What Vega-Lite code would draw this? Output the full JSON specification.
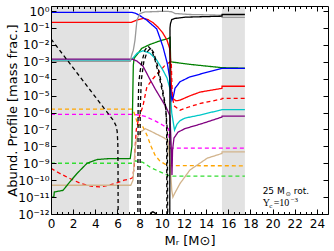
{
"$schema": "https://vega.github.io/schema/vega-lite/v6.json",
"width": 277, "height": 208,
"autosize": {"type": "none"},
"padding": {"left": 51, "top": 6, "right": 6, "bottom": 37},
"config": {"view": {"stroke": null}, "font": "DejaVu Sans"},
"datasets": {
"zones": [{"x0": 0, "x1": 7.05}, {"x0": 15.43, "x1": 17.5}],
"one": [{}],
"lines": [
{"s":"gd","x":0,"y":1e-9},{"s":"gd","x":7.4,"y":1e-9},{"s":"gd","x":7.6,"y":1.41e-9},{"s":"gd","x":8.3,"y":1.12e-9},{"s":"gd","x":9.0,"y":5.6e-10},{"s":"gd","x":9.8,"y":3.2e-10},{"s":"gd","x":10.5,"y":2e-10},{"s":"gd","x":11.0,"y":1.74e-10},{"s":"gd","x":17.5,"y":1.74e-10},
{"s":"md","x":0,"y":7.9e-7},{"s":"md","x":7.3,"y":7.9e-7},{"s":"md","x":8.0,"y":7.1e-7},{"s":"md","x":8.5,"y":6e-7},{"s":"md","x":9.4,"y":3.2e-7},{"s":"md","x":10.1,"y":1.78e-7},{"s":"md","x":10.6,"y":1.12e-7},{"s":"md","x":10.75,"y":7.9e-9},{"s":"md","x":17.5,"y":7.9e-9},
{"s":"od","x":0,"y":1.58e-6},{"s":"od","x":7.3,"y":1.58e-6},{"s":"od","x":7.5,"y":1e-6},{"s":"od","x":7.72,"y":3.5e-7},{"s":"od","x":7.85,"y":1.58e-7},{"s":"od","x":8.03,"y":2e-7},{"s":"od","x":8.3,"y":1.41e-7},{"s":"od","x":8.66,"y":4.6e-8},{"s":"od","x":9.03,"y":1.02e-8},{"s":"od","x":9.39,"y":3e-9},{"s":"od","x":9.84,"y":1.32e-9},{"s":"od","x":10.29,"y":8.9e-10},{"s":"od","x":10.74,"y":7.2e-10},{"s":"od","x":17.5,"y":7.1e-10},
{"s":"rd","x":0,"y":5e-10},{"s":"rd","x":0.8,"y":2.5e-10},{"s":"rd","x":1.7,"y":1.26e-10},{"s":"rd","x":2.7,"y":6.3e-11},{"s":"rd","x":3.6,"y":4.5e-11},{"s":"rd","x":4.4,"y":4e-11},{"s":"rd","x":5.2,"y":5e-11},{"s":"rd","x":6.0,"y":7.1e-11},{"s":"rd","x":6.6,"y":1e-10},{"s":"rd","x":7.1,"y":1.15e-10},{"s":"rd","x":7.35,"y":1.4e-10},{"s":"rd","x":7.5,"y":5e-10},{"s":"rd","x":7.6,"y":1e-8},{"s":"rd","x":7.7,"y":1e-7},{"s":"rd","x":7.9,"y":4e-7},{"s":"rd","x":8.3,"y":2.5e-6},{"s":"rd","x":8.65,"y":3.2e-5},{"s":"rd","x":9.2,"y":1e-4},{"s":"rd","x":9.8,"y":2.8e-4},{"s":"rd","x":10.3,"y":6.3e-4},{"s":"rd","x":10.75,"y":1e-3},{"s":"rd","x":10.85,"y":1e-3},{"s":"rd","x":10.95,"y":1e-5},{"s":"rd","x":11.1,"y":2.5e-6},{"s":"rd","x":11.64,"y":1.38e-6},{"s":"rd","x":12.5,"y":2.2e-6},{"s":"rd","x":13.5,"y":3.5e-6},{"s":"rd","x":15.43,"y":6.3e-6},{"s":"rd","x":15.44,"y":6.8e-6},{"s":"rd","x":17.5,"y":6.8e-6},
{"s":"tan","x":0,"y":5e-11},{"s":"tan","x":7.2,"y":5e-11},{"s":"tan","x":7.4,"y":1e-10},{"s":"tan","x":7.55,"y":3.2e-9},{"s":"tan","x":7.7,"y":2.5e-8},{"s":"tan","x":8.0,"y":6.3e-8},{"s":"tan","x":8.5,"y":1.12e-7},{"s":"tan","x":9.0,"y":7.9e-8},{"s":"tan","x":9.6,"y":5e-8},{"s":"tan","x":10.2,"y":3.2e-8},{"s":"tan","x":10.55,"y":2.2e-8},{"s":"tan","x":10.75,"y":1e-9},{"s":"tan","x":10.9,"y":2.5e-11},{"s":"tan","x":11.0,"y":1e-11},{"s":"tan","x":11.15,"y":1.6e-11},{"s":"tan","x":11.64,"y":6.3e-11},{"s":"tan","x":12.54,"y":4e-10},{"s":"tan","x":14.1,"y":2e-9},{"s":"tan","x":15.43,"y":3.8e-9},{"s":"tan","x":15.44,"y":4.7e-9},{"s":"tan","x":17.5,"y":4.7e-9},
{"s":"green","x":0,"y":1e-11},{"s":"green","x":0.25,"y":1e-11},{"s":"green","x":0.3,"y":2e-11},{"s":"green","x":1.08,"y":2.5e-11},{"s":"green","x":1.4,"y":4.5e-11},{"s":"green","x":1.7,"y":7.9e-11},{"s":"green","x":2.35,"y":2.5e-10},{"s":"green","x":3.25,"y":1e-9},{"s":"green","x":4.15,"y":1.66e-9},{"s":"green","x":5.3,"y":1.9e-9},{"s":"green","x":7.15,"y":1.9e-9},{"s":"green","x":7.3,"y":1e-8},{"s":"green","x":7.38,"y":1e-5},{"s":"green","x":7.43,"y":6.3e-4},{"s":"green","x":7.5,"y":1.6e-3},{"s":"green","x":7.73,"y":2.5e-3},{"s":"green","x":8.19,"y":6.3e-3},{"s":"green","x":8.94,"y":0.0107},{"s":"green","x":9.84,"y":0.0174},{"s":"green","x":10.59,"y":0.024},{"s":"green","x":10.75,"y":0.028},{"s":"green","x":10.8,"y":1e-3},{"s":"green","x":12.5,"y":7.1e-4},{"s":"green","x":15.43,"y":4.5e-4},{"s":"green","x":17.5,"y":4.2e-4},
{"s":"cyan","x":0,"y":1.26e-3},{"s":"cyan","x":7.22,"y":1.26e-3},{"s":"cyan","x":7.5,"y":2e-3},{"s":"cyan","x":7.76,"y":3.2e-3},{"s":"cyan","x":8.3,"y":4.5e-3},{"s":"cyan","x":8.94,"y":3.2e-3},{"s":"cyan","x":9.54,"y":1.26e-3},{"s":"cyan","x":10.1,"y":3.2e-4},{"s":"cyan","x":10.47,"y":1.12e-4},{"s":"cyan","x":10.74,"y":2.5e-5},{"s":"cyan","x":10.9,"y":9.1e-7},{"s":"cyan","x":11.15,"y":9.1e-8},{"s":"cyan","x":11.37,"y":2.04e-7},{"s":"cyan","x":11.64,"y":3.3e-7},{"s":"cyan","x":12.09,"y":4.7e-7},{"s":"cyan","x":13.45,"y":7.1e-7},{"s":"cyan","x":15.43,"y":1.48e-6},{"s":"cyan","x":17.5,"y":1.48e-6},
{"s":"purple","x":0,"y":1.45e-3},{"s":"purple","x":7.31,"y":1.45e-3},{"s":"purple","x":7.76,"y":1.1e-3},{"s":"purple","x":8.3,"y":5.6e-4},{"s":"purple","x":8.9,"y":1e-4},{"s":"purple","x":9.4,"y":2.5e-5},{"s":"purple","x":9.9,"y":7.1e-6},{"s":"purple","x":10.4,"y":2e-6},{"s":"purple","x":10.74,"y":6.3e-7},{"s":"purple","x":10.85,"y":1e-8},{"s":"purple","x":10.92,"y":2e-10},{"s":"purple","x":10.97,"y":6e-9},{"s":"purple","x":11.1,"y":3.1e-8},{"s":"purple","x":11.46,"y":6.9e-8},{"s":"purple","x":12.09,"y":1.12e-7},{"s":"purple","x":13.45,"y":2.04e-7},{"s":"purple","x":15.43,"y":5.4e-7},{"s":"purple","x":15.44,"y":6.2e-7},{"s":"purple","x":17.5,"y":6.2e-7},
{"s":"red","x":0,"y":0.214},{"s":"red","x":7.22,"y":0.214},{"s":"red","x":7.76,"y":0.295},{"s":"red","x":8.3,"y":0.372},{"s":"red","x":8.75,"y":0.316},{"s":"red","x":9.2,"y":0.209},{"s":"red","x":9.66,"y":0.112},{"s":"red","x":10.1,"y":0.05},{"s":"red","x":10.47,"y":0.019},{"s":"red","x":10.7,"y":6.5e-3},{"s":"red","x":10.79,"y":1.26e-3},{"s":"red","x":10.88,"y":2.14e-5},{"s":"red","x":10.97,"y":7.1e-6},{"s":"red","x":11.28,"y":4.9e-6},{"s":"red","x":11.64,"y":5.4e-6},{"s":"red","x":12.54,"y":9.8e-6},{"s":"red","x":13.45,"y":1.62e-5},{"s":"red","x":15.43,"y":2.7e-5},{"s":"red","x":15.44,"y":3.6e-5},{"s":"red","x":17.5,"y":3.6e-5},
{"s":"blue","x":0,"y":0.83},{"s":"blue","x":7.3,"y":0.83},{"s":"blue","x":7.6,"y":0.76},{"s":"blue","x":8.03,"y":0.537},{"s":"blue","x":8.64,"y":0.295},{"s":"blue","x":8.94,"y":0.195},{"s":"blue","x":9.54,"y":0.089},{"s":"blue","x":9.84,"y":0.0251},{"s":"blue","x":10.1,"y":7.9e-3},{"s":"blue","x":10.3,"y":2.5e-3},{"s":"blue","x":10.5,"y":7.9e-4},{"s":"blue","x":10.7,"y":1.26e-4},{"s":"blue","x":10.85,"y":1e-5},{"s":"blue","x":10.92,"y":5.4e-6},{"s":"blue","x":11.04,"y":8.5e-6},{"s":"blue","x":11.19,"y":2.7e-5},{"s":"blue","x":11.64,"y":6.6e-5},{"s":"blue","x":12.54,"y":1.29e-4},{"s":"blue","x":13.45,"y":1.86e-4},{"s":"blue","x":15.43,"y":4.1e-4},{"s":"blue","x":17.5,"y":4.1e-4},
{"s":"grey","x":0,"y":1.07e-3},{"s":"grey","x":7.15,"y":1.07e-3},{"s":"grey","x":7.28,"y":2.5e-3},{"s":"grey","x":7.43,"y":4.9e-3},{"s":"grey","x":7.58,"y":0.019},{"s":"grey","x":7.67,"y":0.076},{"s":"grey","x":7.76,"y":0.295},{"s":"grey","x":8.03,"y":0.72},{"s":"grey","x":8.48,"y":0.89},{"s":"grey","x":9.84,"y":0.955},{"s":"grey","x":10.6,"y":0.955},{"s":"grey","x":10.9,"y":0.91},{"s":"grey","x":11.2,"y":0.72},{"s":"grey","x":12.5,"y":0.63},{"s":"grey","x":15.43,"y":0.575},{"s":"grey","x":15.44,"y":0.427},{"s":"grey","x":17.5,"y":0.427},
{"s":"black","x":8.85,"y":5e-13},{"s":"black","x":9.0,"y":1.15e-12},{"s":"black","x":9.2,"y":1.35e-12},{"s":"black","x":9.4,"y":1.15e-12},{"s":"black","x":9.55,"y":5e-13},{"s":"black","x":10.72,"y":5e-13},{"s":"black","x":10.74,"y":0.1},{"s":"black","x":10.78,"y":0.178},{"s":"black","x":10.9,"y":0.316},{"s":"black","x":11.2,"y":0.37},{"s":"black","x":12.1,"y":0.437},{"s":"black","x":15.43,"y":0.5},{"s":"black","x":15.44,"y":0.63},{"s":"black","x":17.5,"y":0.63},
{"s":"bd1","x":0,"y":0.0224},{"s":"bd1","x":2,"y":4.4e-4},{"s":"bd1","x":4,"y":8.5e-6},{"s":"bd1","x":5.62,"y":3.5e-7},{"s":"bd1","x":5.85,"y":1.78e-7},{"s":"bd1","x":5.97,"y":7.9e-8},{"s":"bd1","x":6.03,"y":1.58e-8},{"s":"bd1","x":6.05,"y":3.2e-10},{"s":"bd1","x":6.06,"y":5e-13},
{"s":"bd2","x":7.84,"y":5e-13},{"s":"bd2","x":7.85,"y":1.6e-9},{"s":"bd2","x":7.86,"y":1.4e-6},{"s":"bd2","x":7.92,"y":5.5e-5},{"s":"bd2","x":8.06,"y":3.2e-4},{"s":"bd2","x":8.2,"y":1e-3},{"s":"bd2","x":8.48,"y":4.9e-3},{"s":"bd2","x":8.75,"y":8.5e-3},{"s":"bd2","x":9.09,"y":4.9e-3},{"s":"bd2","x":9.39,"y":1.26e-3},{"s":"bd2","x":9.84,"y":8.3e-5},{"s":"bd2","x":10.14,"y":8.5e-6},{"s":"bd2","x":10.38,"y":1.38e-6},{"s":"bd2","x":10.44,"y":9.1e-8},{"s":"bd2","x":10.46,"y":5e-13},
{"s":"bd3","x":8.04,"y":5e-13},{"s":"bd3","x":8.05,"y":1.4e-6},{"s":"bd3","x":8.15,"y":8.3e-5},{"s":"bd3","x":8.37,"y":9.5e-4},{"s":"bd3","x":8.66,"y":3.7e-3},{"s":"bd3","x":8.98,"y":6.5e-3},{"s":"bd3","x":9.25,"y":3.7e-3},{"s":"bd3","x":9.61,"y":6.3e-4},{"s":"bd3","x":10.02,"y":3.6e-5},{"s":"bd3","x":10.33,"y":2.75e-6},{"s":"bd3","x":10.5,"y":9.1e-8},{"s":"bd3","x":10.53,"y":5e-13}
]
},
"resolve": {"axis": {"x": "independent", "y": "independent"}},
"layer": [
{
"data": {"name": "zones"},
"mark": {"type": "rect", "color": "#e2e2e2"},
"encoding": {
"x": {"field": "x0", "type": "quantitative", "scale": {"domain": [0, 25], "nice": false, "zero": false},
 "axis": {"orient": "top", "values": [0,0.5,1,1.5,2,2.5,3,3.5,4,4.5,5,5.5,6,6.5,7,7.5,8,8.5,9,9.5,10,10.5,11,11.5,12,12.5,13,13.5,14,14.5,15,15.5,16,16.5,17,17.5,18,18.5,19,19.5,20,20.5,21,21.5,22,22.5,23,23.5,24,24.5], "labels": false, "title": null, "grid": false, "domain": true, "domainColor": "black", "tickColor": "black", "tickSize": {"condition": {"test": "datum.value % 2 === 0", "value": -5}, "value": -2.5}, "zindex": 1}},
"x2": {"field": "x1"},
"y": {"datum": 2, "type": "quantitative", "scale": {"type": "log", "domain": [1e-12, 2], "nice": false},
 "axis": {"orient": "right", "values": [1,0.1,0.01,0.001,1e-4,1e-5,1e-6,1e-7,1e-8,1e-9,1e-10,1e-11,1e-12], "labels": false, "title": null, "grid": false, "domain": true, "domainColor": "black", "tickColor": "black", "tickSize": -5, "zindex": 1}},
"y2": {"datum": 1e-12}
}
},
{
"data": {"name": "lines"},
"mark": {"type": "line", "clip": true},
"encoding": {
"x": {"field": "x", "type": "quantitative", "scale": {"domain": [0, 25], "nice": false, "zero": false},
 "axis": {"orient": "bottom", "values": [0,0.5,1,1.5,2,2.5,3,3.5,4,4.5,5,5.5,6,6.5,7,7.5,8,8.5,9,9.5,10,10.5,11,11.5,12,12.5,13,13.5,14,14.5,15,15.5,16,16.5,17,17.5,18,18.5,19,19.5,20,20.5,21,21.5,22,22.5,23,23.5,24,24.5], "labelExpr": "datum.value % 2 === 0 ? format(datum.value, 'd') : ''", "labelOverlap": false, "labelFlush": false, "labelFontSize": 12, "labelColor": "black", "labelPadding": 9, "grid": false, "domain": true, "domainColor": "black", "tickColor": "black", "tickSize": {"condition": {"test": "datum.value % 2 === 0", "value": -5}, "value": -2.5}, "title": "Mᵣ [M⊙]", "titleFontSize": 13, "titleFontWeight": "normal", "titleColor": "black", "titlePadding": 3, "zindex": 1}},
"y": {"field": "y", "type": "quantitative", "scale": {"type": "log", "domain": [1e-12, 2], "nice": false},
 "axis": {"orient": "left", "values": [1,0.1,0.01,0.001,1e-4,1e-5,1e-6,1e-7,1e-8,1e-9,1e-10,1e-11,1e-12], "labelExpr": "['10⁰','10⁻¹','10⁻²','10⁻³','10⁻⁴','10⁻⁵','10⁻⁶','10⁻⁷','10⁻⁸','10⁻⁹','10⁻¹⁰','10⁻¹¹','10⁻¹²'][round(-log(datum.value)/LN10)]", "labelOverlap": false, "labelFlush": false, "labelFontSize": 12, "labelColor": "black", "labelPadding": 7, "grid": false, "domain": true, "domainColor": "black", "tickColor": "black", "tickSize": -5, "title": "Abund. Profile [mass frac.]", "titleFontSize": 13, "titleFontWeight": "normal", "titleColor": "black", "titlePadding": -2, "zindex": 1}},
"color": {"field": "s", "type": "nominal", "legend": null,
 "scale": {"domain": ["gd","md","od","rd","tan","green","cyan","purple","red","blue","grey","black","bd1","bd2","bd3"],
 "range": ["#33dd33","#ff00ff","#ffa500","#ff0000","#d2b48c","#008000","#00c8c8","#800080","#ff0000","#0000ff","#999999","#000000","#000000","#000000","#000000"]}},
"strokeDash": {"field": "s", "type": "nominal", "legend": null,
 "scale": {"domain": ["gd","md","od","rd","tan","green","cyan","purple","red","blue","grey","black","bd1","bd2","bd3"],
 "range": [[4,3],[4,3],[4,3],[4,3],[1,0],[1,0],[1,0],[1,0],[1,0],[1,0],[1,0],[1,0],[4,3],[4,3],[4,3]]}},
"strokeWidth": {"field": "s", "type": "nominal", "legend": null,
 "scale": {"domain": ["gd","md","od","rd","tan","green","cyan","purple","red","blue","grey","black","bd1","bd2","bd3"],
 "range": [1.3,1.3,1.3,1.3,1.3,1.3,1.3,1.3,1.3,1.3,1.3,1.3,2,2,2]}}
}
},
{
"data": {"name": "one"},
"mark": {"type": "text", "align": "left", "baseline": "middle", "font": "DejaVu Sans", "fontSize": 9, "color": "black"},
"encoding": {"x": {"datum": 19.1, "type": "quantitative", "axis": null}, "y": {"datum": 2.24e-11, "type": "quantitative", "axis": null}, "text": {"value": "25 M"}}
},
{
"data": {"name": "one"},
"mark": {"type": "text", "align": "left", "baseline": "middle", "font": "DejaVu Sans", "fontSize": 6, "color": "black", "dx": 23, "dy": 3},
"encoding": {"x": {"datum": 19.1, "type": "quantitative", "axis": null}, "y": {"datum": 2.24e-11, "type": "quantitative", "axis": null}, "text": {"value": "⊙"}}
},
{
"data": {"name": "one"},
"mark": {"type": "text", "align": "left", "baseline": "middle", "font": "DejaVu Sans", "fontSize": 9, "color": "black", "dx": 31},
"encoding": {"x": {"datum": 19.1, "type": "quantitative", "axis": null}, "y": {"datum": 2.24e-11, "type": "quantitative", "axis": null}, "text": {"value": "rot."}}
},
{
"data": {"name": "one"},
"mark": {"type": "text", "align": "left", "baseline": "middle", "font": "Liberation Serif", "fontSize": 10, "color": "black"},
"encoding": {"x": {"datum": 19.1, "type": "quantitative", "axis": null}, "y": {"datum": 4.2e-12, "type": "quantitative", "axis": null}, "text": {"value": "Y"}}
},
{
"data": {"name": "one"},
"mark": {"type": "text", "align": "left", "baseline": "middle", "font": "Liberation Serif", "fontSize": 7, "color": "black", "dx": 6.5, "dy": 3},
"encoding": {"x": {"datum": 19.1, "type": "quantitative", "axis": null}, "y": {"datum": 4.2e-12, "type": "quantitative", "axis": null}, "text": {"value": "c"}}
},
{
"data": {"name": "one"},
"mark": {"type": "text", "align": "left", "baseline": "middle", "font": "Liberation Serif", "fontSize": 10, "color": "black", "dx": 11},
"encoding": {"x": {"datum": 19.1, "type": "quantitative", "axis": null}, "y": {"datum": 4.2e-12, "type": "quantitative", "axis": null}, "text": {"value": "=10"}}
},
{
"data": {"name": "one"},
"mark": {"type": "text", "align": "left", "baseline": "middle", "font": "Liberation Serif", "fontSize": 7, "color": "black", "dx": 28, "dy": -3},
"encoding": {"x": {"datum": 19.1, "type": "quantitative", "axis": null}, "y": {"datum": 4.2e-12, "type": "quantitative", "axis": null}, "text": {"value": "−3"}}
}
]
}
